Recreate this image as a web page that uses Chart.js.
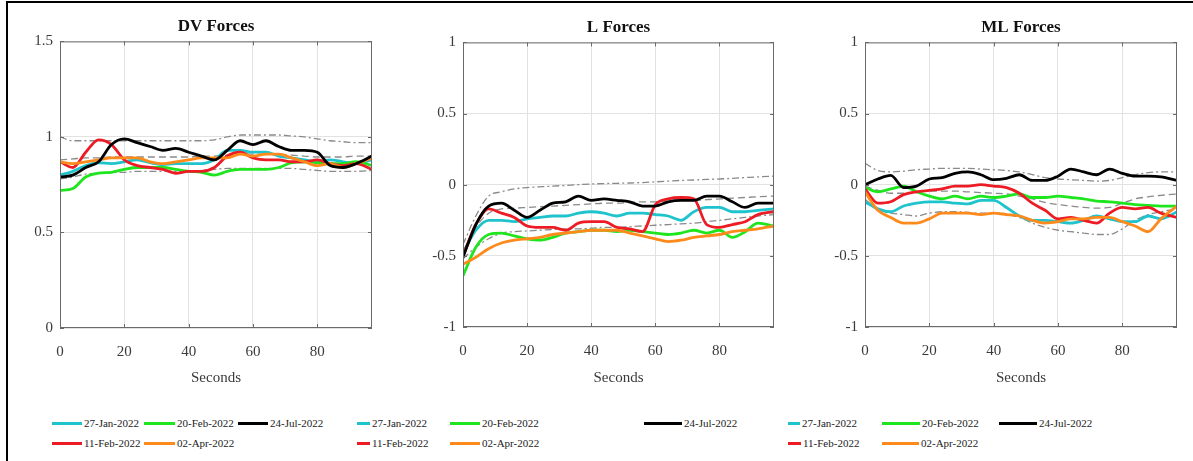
<!DOCTYPE html>
<html>
<head>
<meta charset="utf-8">
<script src="https://cdn.jsdelivr.net/npm/chart.js@4.4.0/dist/chart.umd.min.js"></script>
<style>
html,body{margin:0;padding:0;background:#fff;}
body{width:1193px;height:461px;position:relative;overflow:hidden;font-family:"Liberation Serif","Times New Roman",serif;}
.frame{position:absolute;left:6px;top:1px;width:1200px;height:480px;border-left:2px solid #000;border-top:2px solid #000;box-sizing:border-box;}
canvas{position:absolute;top:0;}
.leg{position:absolute;font-size:11px;color:#222;white-space:nowrap;line-height:12px;}
.line{position:absolute;height:3px;}
</style>
</head>
<body>
<div class="frame"></div>
<canvas id="c1" width="395" height="400" style="left:0px"></canvas>
<canvas id="c2" width="400" height="400" style="left:395px"></canvas>
<canvas id="c3" width="398" height="400" style="left:795px"></canvas>
<div id="legends"></div>
<script>
// ---- data ----
const seconds = [0,4,8,12,16,20,24,28,32,36,40,44,48,52,56,60,64,68,72,76,80,84,88,92,97];
const seriesNames = ['27-Jan-2022','11-Feb-2022','20-Feb-2022','02-Apr-2022','24-Jul-2022'];
const panelTitles = ['DV Forces','L Forces','ML Forces'];
const xTitle = 'Seconds';
const dvTicks = [0,0.5,1,1.5];
const lmlTicks = [-1,-0.5,0,0.5,1];

// DV Forces
const dvJan27 = [0.80,0.82,0.85,0.865,0.86,0.87,0.88,0.865,0.855,0.86,0.86,0.86,0.88,0.93,0.93,0.92,0.92,0.90,0.89,0.88,0.87,0.88,0.87,0.86,0.88];
const dvFeb11 = [0.87,0.84,0.92,0.985,0.96,0.88,0.85,0.84,0.83,0.81,0.82,0.82,0.84,0.90,0.92,0.89,0.88,0.88,0.87,0.87,0.88,0.86,0.85,0.86,0.83];
const dvFeb20 = [0.72,0.73,0.79,0.81,0.815,0.83,0.84,0.84,0.84,0.83,0.82,0.815,0.80,0.82,0.83,0.83,0.83,0.84,0.865,0.87,0.865,0.86,0.86,0.87,0.85];
const dvApr02 = [0.87,0.86,0.87,0.88,0.89,0.89,0.89,0.87,0.86,0.87,0.88,0.89,0.89,0.89,0.91,0.90,0.91,0.91,0.89,0.87,0.85,0.86,0.84,0.86,0.89];
const dvJul24 = [0.79,0.80,0.84,0.87,0.96,0.99,0.97,0.95,0.93,0.94,0.92,0.90,0.88,0.93,0.98,0.96,0.98,0.95,0.93,0.93,0.92,0.85,0.84,0.86,0.90];
const dvUpper = [1.0,0.98,0.98,0.98,0.98,0.98,0.98,0.98,0.98,0.98,0.98,0.98,0.985,1.0,1.01,1.01,1.01,1.01,1.005,1.0,0.99,0.98,0.975,0.97,0.97];
const dvMean  = [0.88,0.885,0.89,0.89,0.895,0.895,0.895,0.895,0.895,0.895,0.895,0.9,0.9,0.905,0.91,0.91,0.91,0.91,0.905,0.9,0.895,0.895,0.895,0.9,0.9];
const dvLower = [0.78,0.79,0.805,0.81,0.815,0.815,0.82,0.82,0.82,0.82,0.82,0.825,0.83,0.835,0.835,0.835,0.835,0.835,0.835,0.83,0.825,0.82,0.82,0.82,0.825];

// L Forces
const lJan27 = [-0.48,-0.32,-0.25,-0.25,-0.26,-0.24,-0.23,-0.22,-0.22,-0.20,-0.19,-0.20,-0.22,-0.20,-0.20,-0.21,-0.22,-0.25,-0.19,-0.16,-0.16,-0.19,-0.19,-0.18,-0.17];
const lFeb11 = [-0.50,-0.28,-0.17,-0.20,-0.23,-0.29,-0.30,-0.30,-0.32,-0.27,-0.26,-0.26,-0.30,-0.31,-0.33,-0.14,-0.10,-0.09,-0.10,-0.28,-0.30,-0.28,-0.26,-0.21,-0.19];
const lFeb20 = [-0.64,-0.44,-0.35,-0.34,-0.36,-0.38,-0.39,-0.37,-0.34,-0.33,-0.32,-0.32,-0.33,-0.32,-0.33,-0.34,-0.35,-0.34,-0.32,-0.34,-0.32,-0.37,-0.33,-0.27,-0.29];
const lApr02 = [-0.56,-0.51,-0.45,-0.41,-0.39,-0.38,-0.37,-0.35,-0.34,-0.33,-0.32,-0.32,-0.32,-0.34,-0.36,-0.38,-0.40,-0.39,-0.37,-0.36,-0.35,-0.33,-0.32,-0.31,-0.29];
const lJul24 = [-0.51,-0.28,-0.15,-0.13,-0.18,-0.23,-0.18,-0.13,-0.12,-0.08,-0.11,-0.10,-0.11,-0.12,-0.15,-0.15,-0.12,-0.11,-0.11,-0.08,-0.08,-0.12,-0.16,-0.13,-0.13];
const lUpper = [-0.42,-0.22,-0.08,-0.05,-0.03,-0.02,-0.015,-0.01,-0.005,0,0.005,0.008,0.01,0.012,0.015,0.02,0.025,0.03,0.033,0.037,0.04,0.045,0.05,0.055,0.06];
const lMean  = [-0.47,-0.30,-0.20,-0.17,-0.165,-0.16,-0.155,-0.15,-0.145,-0.14,-0.135,-0.13,-0.13,-0.125,-0.12,-0.12,-0.115,-0.11,-0.11,-0.105,-0.10,-0.095,-0.09,-0.085,-0.08];
const lLower = [-0.52,-0.44,-0.38,-0.34,-0.33,-0.325,-0.32,-0.315,-0.31,-0.31,-0.305,-0.30,-0.30,-0.295,-0.29,-0.285,-0.28,-0.275,-0.27,-0.26,-0.25,-0.24,-0.23,-0.22,-0.21];

// ML Forces
const mlJan27 = [-0.12,-0.17,-0.19,-0.15,-0.13,-0.12,-0.12,-0.13,-0.135,-0.11,-0.11,-0.16,-0.22,-0.25,-0.25,-0.26,-0.27,-0.25,-0.22,-0.24,-0.26,-0.26,-0.22,-0.24,-0.19];
const mlFeb11 = [-0.03,-0.13,-0.12,-0.07,-0.05,-0.04,-0.03,-0.01,-0.01,0.0,-0.01,-0.02,-0.06,-0.13,-0.18,-0.24,-0.23,-0.25,-0.27,-0.20,-0.16,-0.17,-0.16,-0.20,-0.23];
const mlFeb20 = [-0.02,-0.05,-0.03,-0.01,-0.05,-0.08,-0.10,-0.08,-0.10,-0.08,-0.09,-0.08,-0.065,-0.09,-0.09,-0.08,-0.09,-0.10,-0.115,-0.12,-0.13,-0.14,-0.145,-0.15,-0.15];
const mlApr02 = [-0.05,-0.18,-0.23,-0.27,-0.27,-0.24,-0.20,-0.20,-0.20,-0.21,-0.20,-0.21,-0.22,-0.25,-0.27,-0.26,-0.24,-0.24,-0.23,-0.23,-0.26,-0.29,-0.33,-0.24,-0.15];
const mlJul24 = [0.0,0.04,0.065,-0.02,-0.01,0.04,0.05,0.08,0.09,0.07,0.035,0.045,0.07,0.03,0.03,0.06,0.11,0.09,0.07,0.11,0.08,0.06,0.06,0.055,0.03];
const mlUpper = [0.15,0.10,0.09,0.095,0.105,0.11,0.115,0.115,0.115,0.11,0.105,0.10,0.09,0.07,0.05,0.04,0.035,0.03,0.025,0.03,0.05,0.07,0.085,0.09,0.09];
const mlMean  = [-0.01,-0.04,-0.06,-0.06,-0.05,-0.045,-0.045,-0.045,-0.05,-0.055,-0.06,-0.065,-0.08,-0.10,-0.125,-0.14,-0.15,-0.16,-0.165,-0.16,-0.13,-0.10,-0.085,-0.075,-0.065];
const mlLower = [-0.10,-0.18,-0.20,-0.21,-0.22,-0.20,-0.19,-0.19,-0.195,-0.20,-0.20,-0.21,-0.23,-0.27,-0.30,-0.32,-0.33,-0.34,-0.35,-0.35,-0.31,-0.25,-0.21,-0.19,-0.17];

// ---- styles ----
const colors = {jan27:'#1fc3cc', feb11:'#ec1b24', feb20:'#1fe51f', apr02:'#ff8a1c', jul24:'#000000', band:'#8a8a8a'};
const FONT = '"Liberation Serif","Times New Roman",serif';

function pts(vals){ return vals.map((v,i)=>({x:seconds[i], y:v})); }
function colored(label, vals, color){
  return {label, data:pts(vals), borderColor:color, borderWidth:2.8, pointRadius:0, fill:false,
          cubicInterpolationMode:'monotone'};
}
function band(label, vals, dash){
  return {label, data:pts(vals), borderColor:colors.band, borderWidth:1.3, borderDash:dash, pointRadius:0,
          fill:false, cubicInterpolationMode:'monotone'};
}

const boxPlugin = {
  id:'box',
  afterDraw(chart){
    const {ctx, chartArea:a, scales:{x,y}} = chart;
    ctx.save();
    ctx.strokeStyle = '#6a6a6a';
    ctx.lineWidth = 1;
    ctx.strokeRect(a.left+0.5, a.top+0.5, a.right-a.left-1, a.bottom-a.top-1);
    ctx.beginPath();
    x.ticks.forEach(t=>{ const px = Math.round(x.getPixelForValue(t.value))+0.5;
      ctx.moveTo(px,a.bottom); ctx.lineTo(px,a.bottom-4); ctx.moveTo(px,a.top); ctx.lineTo(px,a.top+4); });
    y.ticks.forEach(t=>{ const py = Math.round(y.getPixelForValue(t.value))+0.5;
      ctx.moveTo(a.left,py); ctx.lineTo(a.left+4,py); ctx.moveTo(a.right,py); ctx.lineTo(a.right-4,py); });
    ctx.stroke();
    ctx.restore();
  }
};

function makePanel(id, title, yTicks, sets, lay){
  const datasets = [
    colored(seriesNames[4], sets[4], colors.jul24),
    colored(seriesNames[3], sets[3], colors.apr02),
    colored(seriesNames[1], sets[1], colors.feb11),
    colored(seriesNames[2], sets[2], colors.feb20),
    colored(seriesNames[0], sets[0], colors.jan27),
    band('upper', sets[5], [7,3,2,3]),
    band('mean', sets[6], [7,4]),
    band('lower', sets[7], [7,3,2,3])
  ];
  new Chart(document.getElementById(id), {
    type:'line',
    data:{datasets},
    options:{
      responsive:false, animation:false, devicePixelRatio:1,
      layout:{padding:{left:0, right:lay.padRight, top:0, bottom:0}},
      plugins:{
        legend:{display:false}, tooltip:{enabled:false},
        title:{display:true, text:title, fullSize:false, color:'#111',
               font:{family:FONT, size:17, weight:'bold'}, padding:{top:lay.titleTop, bottom:lay.titleBottom}}
      },
      scales:{
        x:{type:'linear', min:0, max:97,
           ticks:{stepSize:20, includeBounds:false, color:'#3a3a3a', font:{family:FONT, size:15}, padding:15, maxRotation:0,
                  callback:v=>String(v)},
           grid:{color:'#e2e2e2', drawTicks:false}, border:{display:false},
           title:{display:true, text:xTitle, color:'#3a3a3a', font:{family:FONT, size:15}, padding:{top:0,bottom:13}},
           afterFit:s=>{ s.height = 400 - lay.bottom; }},
        y:{type:'linear', min:yTicks[0], max:yTicks[yTicks.length-1],
           afterBuildTicks:s=>{ s.ticks = yTicks.map(v=>({value:v})); },
           ticks:{color:'#3a3a3a', font:{family:FONT, size:15}, padding:7, callback:v=>String(v)},
           grid:{color:'#e2e2e2', drawTicks:false}, border:{display:false},
           afterFit:s=>{ s.width = lay.left; }}
      }
    },
    plugins:[boxPlugin]
  });
}

makePanel('c1', panelTitles[0], dvTicks,
  [dvJan27,dvFeb11,dvFeb20,dvApr02,dvJul24,dvUpper,dvMean,dvLower],
  {left:60, padRight:23, bottom:328, titleTop:16, titleBottom:5});
makePanel('c2', panelTitles[1], lmlTicks,
  [lJan27,lFeb11,lFeb20,lApr02,lJul24,lUpper,lMean,lLower],
  {left:68, padRight:21, bottom:327, titleTop:17, titleBottom:5});
makePanel('c3', panelTitles[2], lmlTicks,
  [mlJan27,mlFeb11,mlFeb20,mlApr02,mlJul24,mlUpper,mlMean,mlLower],
  {left:70, padRight:16, bottom:327, titleTop:17, titleBottom:5});

// ---- legends (HTML) ----
const legendColors = [colors.jan27, colors.feb11, colors.feb20, colors.apr02, colors.jul24];
const legendRows = [423, 443];
// [seriesIndex, lineStart, lineEnd, row]
const legendLayout = [
  [[0,52,82,0],[2,144,175,0],[4,238,268,0],[1,52,82,1],[3,144,175,1]],
  [[0,357,370,0],[2,450,480,0],[4,644,682,0],[1,357,370,1],[3,450,480,1]],
  [[0,788,800,0],[2,882,920,0],[4,999,1037,0],[1,788,801,1],[3,882,919,1]]
];
const host = document.getElementById('legends');
legendLayout.forEach(items=>items.forEach(([si,x1,x2,row])=>{
  const ln = document.createElement('div');
  ln.className='line';
  ln.style.left=x1+'px'; ln.style.width=(x2-x1)+'px'; ln.style.top=(legendRows[row]-1.5)+'px';
  ln.style.background=legendColors[si];
  host.appendChild(ln);
  const tx = document.createElement('div');
  tx.className='leg';
  tx.textContent=seriesNames[si];
  tx.style.left=(x2+2)+'px'; tx.style.top=(legendRows[row]-6)+'px';
  host.appendChild(tx);
}));
</script>
</body>
</html>
